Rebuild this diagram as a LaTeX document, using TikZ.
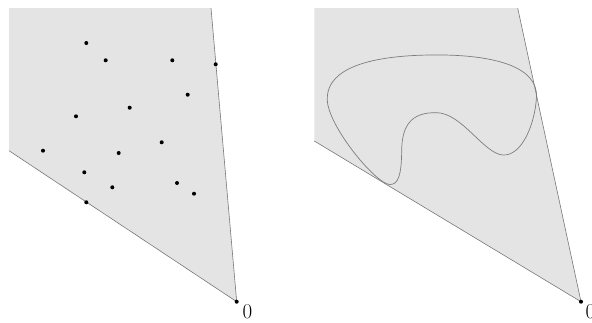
\documentclass[tikz,border=0pt]{standalone}
\begin{document}
\begin{tikzpicture}[x=1pt,y=-1pt,
  region/.style={fill=conefill,draw=none},
  edge/.style={draw=edgegray,line width=0.6pt},
  pt/.style={circle,fill=black,inner sep=0pt,minimum size=4pt},
  lbl/.style={inner sep=0pt,font=\fontsize{21}{25}\selectfont},
  curve/.style={draw=curvegray,line width=0.7pt}]
\definecolor{conefill}{RGB}{228,228,228}
\definecolor{edgegray}{RGB}{120,120,120}
\definecolor{curvegray}{RGB}{125,125,125}
\useasboundingbox (0,0) rectangle (592,322);
% ---------- left cone ----------
\coordinate (LTL) at (9,8);
\coordinate (LTR) at (211,8);
\coordinate (LO) at (236.7,301.7);
\coordinate (LBL) at (9,150.7);
\fill[region] (LTL) -- (LTR) -- (LO) -- (LBL) -- cycle;
\draw[edge] (LTR) -- (LO) -- (LBL);
\foreach \n/\p in {p1/{(86.3,43)},p2/{(105.7,60.3)},p3/{(172.3,60.3)},p4/{(215.7,64.3)},
  p5/{(187.7,94.7)},p6/{(129.7,107.7)},p7/{(76,116.3)},p8/{(161.7,142.3)},
  p9/{(43,150.7)},p10/{(118.7,153)},p11/{(84.3,172.3)},p12/{(112.3,187.3)},
  p13/{(177,183)},p14/{(194,193.7)},p15/{(86.3,202.3)}}
  \node[pt] (\n) at \p {};
\node[pt] (lapex) at (LO) {};
\node[lbl] (l0) at (247.5,312) {0};
% ---------- right cone ----------
\coordinate (RTL) at (314.3,8);
\coordinate (RTR) at (517.7,8);
\coordinate (RO) at (581,301.7);
\coordinate (RBL) at (314.3,141);
\fill[region] (RTL) -- (RTR) -- (RO) -- (RBL) -- cycle;
\draw[edge] (RTR) -- (RO) -- (RBL);
\draw[curve] (327.3,100)
  .. controls (326,74) and (356,56) .. (430,55)
  .. controls (492,54) and (538,66) .. (536.5,97)
  .. controls (535,124) and (522,156) .. (503,155)
  .. controls (484,154) and (462,113) .. (436.7,112.7)
  .. controls (411,112) and (402,126) .. (401.7,150)
  .. controls (401.5,176) and (398,184.5) .. (390,184.5)
  .. controls (376,184.5) and (328,126) .. (327.3,100) -- cycle;
\node[pt] (rapex) at (RO) {};
\node[lbl] (r0) at (590.5,312) {0};
\end{tikzpicture}
\end{document}
